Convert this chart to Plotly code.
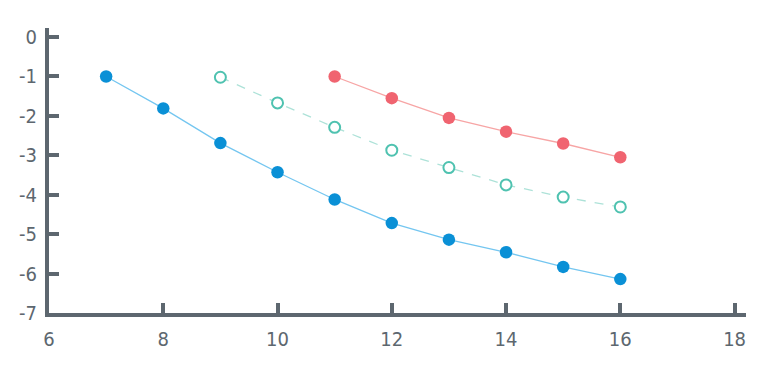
import plotly.graph_objects as go

blue_x = [7, 8, 9, 10, 11, 12, 13, 14, 15, 16]
blue_y = [-1.0, -1.81, -2.69, -3.43, -4.12, -4.72, -5.14, -5.46, -5.83, -6.14]

teal_x = [9, 10, 11, 12, 13, 14, 15, 16]
teal_y = [-1.02, -1.67, -2.29, -2.87, -3.31, -3.75, -4.06, -4.31]

red_x = [11, 12, 13, 14, 15, 16]
red_y = [-1.0, -1.55, -2.05, -2.4, -2.7, -3.05]

x_ticks = [6, 8, 10, 12, 14, 16, 18]
y_ticks = [0, -1, -2, -3, -4, -5, -6, -7]

axis_color = "#5d676f"

fig = go.Figure()
fig.add_trace(go.Scatter(
    x=blue_x, y=blue_y, mode="lines+markers",
    line=dict(color="#74c6f0", width=1.3),
    marker=dict(color="#0a90d6", size=12.5, line=dict(width=0)),
))
fig.add_trace(go.Scatter(
    x=teal_x, y=teal_y, mode="lines+markers",
    line=dict(color="#ade2d8", width=1.3, dash="dash"),
    marker=dict(color="white", size=11, line=dict(color="#4fc2b0", width=2)),
))
fig.add_trace(go.Scatter(
    x=red_x, y=red_y, mode="lines+markers",
    line=dict(color="#f7a5a5", width=1.3),
    marker=dict(color="#f06470", size=12.5, line=dict(width=0)),
))

tick_font = dict(family="Liberation Sans Narrow, DejaVu Sans Condensed, Roboto", size=20, color=axis_color)

fig.update_layout(
    width=764, height=360,
    margin=dict(l=41, r=26, t=20, b=55),
    paper_bgcolor="white", plot_bgcolor="white",
    showlegend=False,
    xaxis=dict(
        range=[6, 18.2], tickvals=x_ticks, ticktext=[str(v) for v in x_ticks],
        showgrid=False, zeroline=False,
        showline=True, linecolor=axis_color, linewidth=4,
        ticks="inside", ticklen=10, tickwidth=4, tickcolor=axis_color,
        tickfont=tick_font, ticklabelstandoff=5,
    ),
    yaxis=dict(
        range=[-7, 0.23], tickvals=y_ticks, ticktext=[str(v) for v in y_ticks],
        showgrid=False, zeroline=False,
        showline=True, linecolor=axis_color, linewidth=4,
        ticks="inside", ticklen=10, tickwidth=4, tickcolor=axis_color,
        tickfont=tick_font, ticklabelstandoff=4,
    ),
)

fig.write_html("out.html")
